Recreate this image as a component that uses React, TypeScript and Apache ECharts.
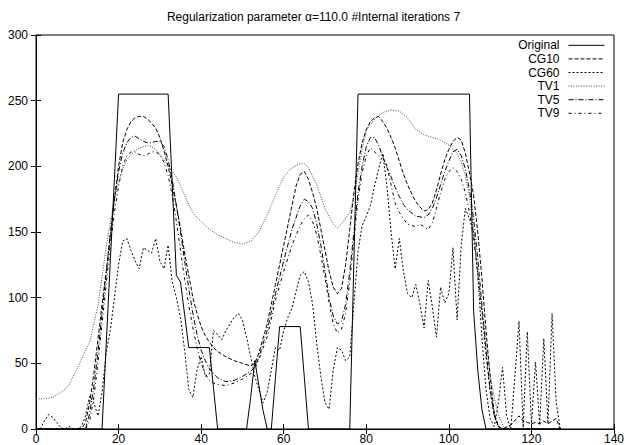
import React, { useEffect, useRef } from "react";
import * as echarts from "echarts";

const titleText = "Regularization parameter \u03b1=110.0 #Internal iterations 7";
const seriesNames = ["Original", "CG10", "CG60", "TV1", "TV5", "TV9"];
const xTicks = { min: 0, max: 140, interval: 20 };
const yTicks = { min: 0, max: 300, interval: 50 };

const original: [number, number][] = [
  [0, 0], [16, 0], [17, 64], [18, 128], [19, 191], [20, 255], [32, 255], [33, 186], [34, 117], [35, 112],
  [36, 87], [37, 62], [42, 62], [43, 31], [44, 0], [51, 0], [52, 24], [53, 52], [54, 33], [55, 14], [56, 0],
  [57, 0], [58, 39], [59, 78], [64, 78], [65, 39], [66, 0], [76, 0], [77, 128], [78, 255], [105, 255],
  [106, 90], [107, 45], [108, 15], [109, 0], [127, 0],
];

const cg10: [number, number][] = [
  [0, 0], [11, 0], [12, 5], [13, 20], [14, 42], [15, 68], [16, 95], [17, 120], [18, 148], [19, 175], [20, 200],
  [21, 218], [22, 228], [23, 234], [24, 237], [25, 238], [26, 238], [27, 236], [28, 233], [29, 229], [30, 222],
  [31, 212], [32, 200], [33, 186], [34, 170], [35, 153], [36, 134], [37, 117], [38, 100], [39, 88], [40, 78],
  [41, 71], [42, 66], [43, 62], [44, 59], [46, 55], [48, 52], [50, 50], [52, 48], [53, 50], [54, 58], [56, 80],
  [58, 110], [60, 140], [62, 170], [63, 185], [64, 194], [65, 196], [66, 190], [67, 180], [68, 168], [69, 152],
  [70, 136], [71, 120], [72, 108], [73, 103], [74, 107], [75, 125], [76, 152], [77, 180], [78, 202], [79, 218],
  [80, 228], [81, 234], [82, 237], [83, 238], [84, 234], [85, 229], [86, 222], [87, 214], [88, 204], [89, 194],
  [90, 186], [91, 179], [92, 173], [93, 169], [94, 166], [95, 167], [96, 172], [97, 182], [98, 194], [99, 205],
  [100, 213], [101, 219], [102, 222], [103, 220], [104, 210], [105, 195], [106, 178], [107, 150], [108, 115],
  [109, 75], [110, 40], [111, 12], [112, 2], [113, 0], [115, 3], [117, 10], [118, 6], [119, 5], [120, 4],
  [121, 5], [122, 4], [123, 6], [124, 4], [126, 8], [127, 0],
];

const cg60: [number, number][] = [
  [0, 0], [1, 0], [2, 6], [3, 11], [4, 9], [5, 5], [6, 1], [7, 0], [8, 2], [9, 0], [10, 0], [11, 2], [12, 10],
  [13, 25], [14, 20], [15, 10], [16, 28], [17, 58], [18, 75], [19, 100], [20, 125], [21, 143], [22, 145],
  [23, 136], [24, 128], [25, 122], [26, 138], [27, 136], [28, 134], [29, 145], [30, 128], [31, 122], [32, 140],
  [33, 112], [34, 100], [35, 85], [36, 60], [37, 30], [38, 24], [39, 45], [40, 55], [41, 40], [42, 42], [43, 75],
  [44, 72], [45, 68], [46, 75], [47, 80], [48, 85], [49, 88], [50, 83], [51, 70], [52, 55], [53, 40], [54, 30],
  [55, 20], [56, 28], [57, 45], [58, 62], [59, 60], [60, 75], [61, 85], [62, 92], [63, 105], [64, 117], [65, 120],
  [66, 112], [67, 95], [68, 65], [69, 40], [70, 20], [71, 15], [72, 45], [73, 62], [74, 60], [75, 52], [76, 55],
  [77, 95], [78, 135], [79, 155], [80, 162], [81, 170], [82, 185], [83, 198], [84, 210], [85, 185], [86, 150],
  [87, 122], [88, 145], [89, 120], [90, 103], [91, 100], [92, 110], [93, 95], [94, 77], [95, 113], [96, 93],
  [97, 70], [98, 108], [99, 96], [100, 103], [101, 138], [102, 83], [103, 140], [104, 168], [105, 160],
  [106, 150], [107, 118], [108, 70], [109, 30], [110, 8], [111, 2], [112, 20], [113, 47], [114, 10], [115, 0],
  [116, 40], [117, 82], [118, 1], [119, 74], [120, 4], [121, 51], [122, 3], [123, 69], [124, 4], [125, 88],
  [126, 20], [127, 0],
];

const tv1: [number, number][] = [
  [0, 23], [2, 23], [4, 24], [5, 26], [6, 28], [7, 30], [8, 34], [9, 40], [10, 46], [11, 53], [12, 60], [13, 66],
  [14, 80], [15, 94], [16, 116], [17, 138], [18, 158], [19, 175], [20, 188], [21, 198], [22, 205], [23, 209],
  [24, 212], [25, 214], [26, 215], [27, 216], [28, 215], [29, 213], [30, 209], [31, 205], [32, 200], [33, 196],
  [34, 192], [35, 185], [36, 178], [37, 171], [38, 165], [39, 161], [40, 158], [41, 155], [42, 152], [43, 150],
  [44, 148], [46, 145], [48, 142], [50, 141], [52, 143], [54, 150], [56, 163], [58, 178], [60, 192], [62, 199],
  [64, 202], [65, 202], [66, 199], [68, 186], [70, 168], [72, 156], [73, 153], [74, 156], [76, 165], [77, 176],
  [78, 195], [79, 213], [80, 227], [82, 236], [84, 241], [86, 243], [88, 242], [90, 237], [92, 228], [94, 224],
  [96, 222], [98, 220], [100, 216], [102, 210], [103, 203], [104, 193], [105, 177], [106, 150], [107, 120],
  [108, 92], [109, 66], [110, 42], [111, 24], [112, 11], [113, 3], [114, 0], [127, 0],
];

const tv5: [number, number][] = [
  [0, 0], [12, 0], [13, 12], [14, 32], [15, 58], [16, 88], [17, 118], [18, 148], [19, 175], [20, 196], [21, 210],
  [22, 218], [23, 222], [24, 223], [25, 221], [26, 219], [27, 218], [28, 218], [29, 219], [30, 219], [31, 215],
  [32, 205], [33, 190], [34, 170], [35, 150], [36, 128], [37, 107], [38, 88], [39, 72], [40, 60], [41, 52],
  [42, 46], [43, 42], [44, 39], [46, 36], [48, 37], [50, 40], [52, 44], [53, 47], [54, 55], [56, 75], [58, 103],
  [60, 128], [62, 152], [64, 170], [65, 175], [66, 173], [67, 168], [68, 156], [69, 140], [70, 120], [71, 100],
  [72, 86], [73, 80], [74, 82], [75, 95], [76, 120], [77, 150], [78, 180], [79, 200], [80, 215], [81, 222],
  [82, 222], [83, 216], [84, 207], [85, 199], [86, 192], [87, 184], [88, 177], [89, 171], [90, 167], [92, 162],
  [94, 161], [95, 163], [96, 168], [97, 176], [98, 186], [99, 196], [100, 204], [101, 211], [102, 213],
  [103, 208], [104, 198], [105, 182], [106, 160], [107, 130], [108, 95], [109, 60], [110, 30], [111, 10],
  [112, 2], [113, 0], [127, 0],
];

const tv9: [number, number][] = [
  [0, 0], [12, 0], [13, 6], [14, 24], [15, 50], [16, 80], [17, 110], [18, 140], [19, 165], [20, 185], [21, 200],
  [22, 208], [23, 211], [24, 211], [25, 209], [26, 208], [27, 209], [28, 211], [29, 211], [30, 209], [31, 203],
  [32, 193], [33, 178], [34, 158], [35, 136], [36, 114], [37, 94], [38, 77], [39, 62], [40, 50], [41, 42],
  [42, 37], [43, 35], [44, 34], [46, 33], [48, 35], [50, 38], [52, 42], [53, 46], [54, 53], [56, 70], [58, 98],
  [60, 120], [62, 140], [64, 155], [65, 160], [66, 163], [67, 158], [68, 148], [69, 132], [70, 115], [71, 96],
  [72, 80], [73, 73], [74, 76], [75, 88], [76, 112], [77, 145], [78, 175], [79, 195], [80, 208], [81, 214],
  [82, 211], [83, 208], [84, 209], [85, 200], [86, 186], [87, 172], [88, 165], [89, 160], [90, 156], [92, 154],
  [93, 156], [95, 152], [96, 157], [97, 168], [98, 180], [99, 190], [100, 196], [101, 199], [102, 196],
  [103, 190], [104, 180], [105, 165], [106, 145], [107, 118], [108, 88], [109, 55], [110, 28], [111, 10],
  [112, 2], [113, 0], [127, 0],
];

const seriesData = [original, cg10, cg60, tv1, tv5, tv9];
const dashTypes: any[] = ["solid", [4, 2], [2, 2], [1, 1.5], [5, 2, 1, 2], [3, 3, 1, 3]];
const lineColors = ["#000", "#000", "#000", "#444", "#000", "#000"];

const FONT = "'Liberation Sans', Arial, Helvetica, sans-serif";

export default function App() {
  const ref = useRef<HTMLDivElement>(null);
  useEffect(() => {
    if (!ref.current) return;
    const chart = echarts.init(ref.current, undefined, { renderer: "svg" });
    const axisCommon = {
      axisLine: { show: true, lineStyle: { color: "#000", width: 1 } },
      axisTick: { show: true, inside: true, length: 5, lineStyle: { color: "#000" } },
      splitLine: { show: false },
    };
    chart.setOption({
      animation: false,
      backgroundColor: "#fff",
      title: {
        text: titleText,
        left: "center",
        top: 6,
        textStyle: { fontSize: 12, fontWeight: "normal", color: "#000", fontFamily: FONT },
      },
      legend: {
        data: seriesNames,
        orient: "vertical",
        right: 22,
        top: 38.5,
        align: "right",
        padding: 0,
        itemWidth: 36,
        itemHeight: 8,
        itemGap: 0,
        itemStyle: { opacity: 0, borderWidth: 0 },
        lineStyle: { width: 1 },
        textStyle: {
          fontSize: 12,
          fontWeight: "normal",
          color: "#000",
          fontFamily: FONT,
          lineHeight: 13.6,
          height: 13.6,
          padding: [0, 4, 0, 0],
        },
      },
      grid: { left: 36, right: 12, top: 35, bottom: 15, show: true, borderColor: "#000", borderWidth: 1 },
      xAxis: [
        {
          type: "value",
          min: xTicks.min,
          max: xTicks.max,
          interval: xTicks.interval,
          position: "bottom",
          ...axisCommon,
          axisLabel: { show: true, margin: 4, fontSize: 12, color: "#000", fontFamily: FONT },
        },
        {
          type: "value",
          min: xTicks.min,
          max: xTicks.max,
          interval: xTicks.interval,
          position: "top",
          ...axisCommon,
          axisLabel: { show: false },
        },
      ],
      yAxis: [
        {
          type: "value",
          min: yTicks.min,
          max: yTicks.max,
          interval: yTicks.interval,
          position: "left",
          ...axisCommon,
          axisLabel: { show: true, margin: 8, fontSize: 12, color: "#000", fontFamily: FONT },
        },
        {
          type: "value",
          min: yTicks.min,
          max: yTicks.max,
          interval: yTicks.interval,
          position: "right",
          ...axisCommon,
          axisLabel: { show: false },
        },
      ],
      series: seriesNames.map((name, i) => ({
        name,
        type: "line",
        xAxisIndex: 0,
        yAxisIndex: 0,
        data: seriesData[i],
        symbol: "none",
        showSymbol: false,
        color: lineColors[i],
        lineStyle: { color: lineColors[i], width: 1, type: dashTypes[i] },
        z: 10 - i,
      })),
    });
    return () => chart.dispose();
  }, []);
  return (
    <div
      ref={ref}
      style={{ position: "fixed", left: 0, top: 0, width: 627, height: 445, background: "#fff" }}
    />
  );
}
